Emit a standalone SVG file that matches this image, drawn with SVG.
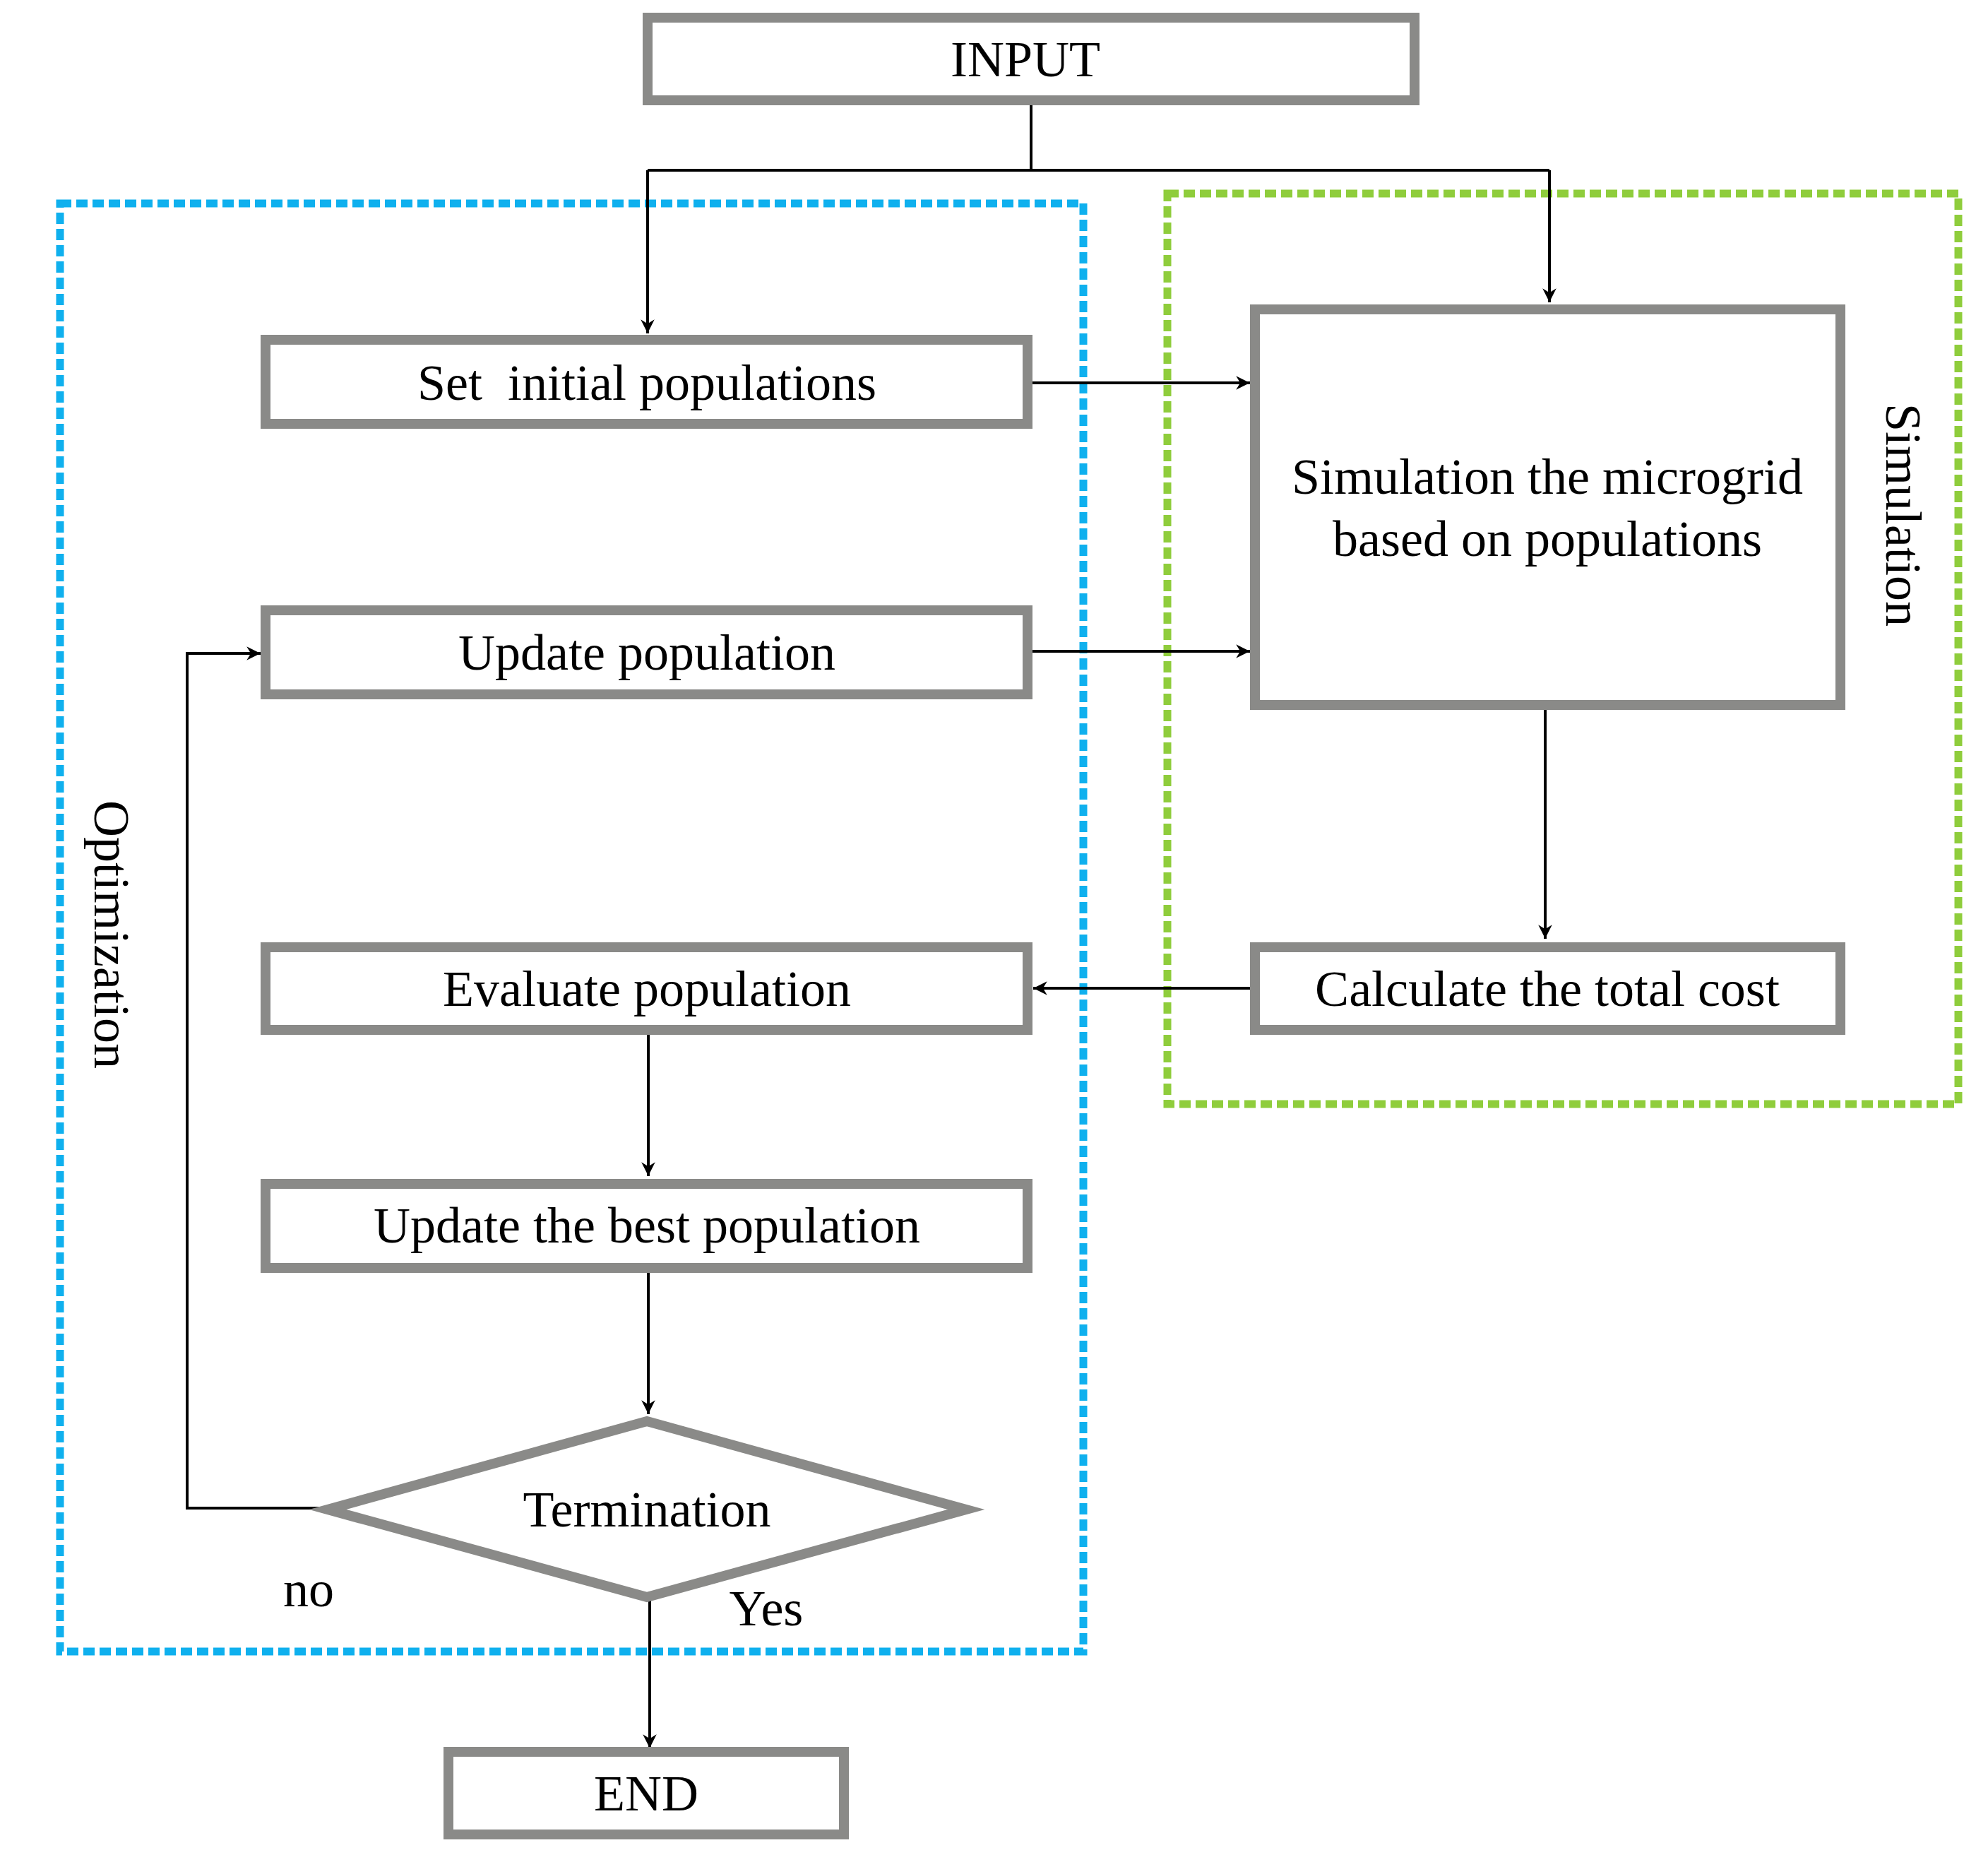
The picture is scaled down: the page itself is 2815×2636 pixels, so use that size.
<svg xmlns="http://www.w3.org/2000/svg" width="2815" height="2636" viewBox="0 0 2815 2636">
<defs>
<style>
.b{fill:#fff;stroke:#8a8a88;stroke-width:14}
.t{font-family:"Liberation Serif",serif;font-size:72px;fill:#000;text-anchor:middle;dominant-baseline:central}
.c{fill:none;stroke:#000;stroke-width:4}
</style>
<marker id="a" viewBox="0 0 10 10" refX="10" refY="5" markerWidth="7" markerHeight="7" orient="auto" markerUnits="userSpaceOnUse" style="overflow:visible"><path d="M0,0 L10,5 L0,10 L3,5z" fill="#000" transform="scale(2.8) translate(-6.5,-3.2)"/></marker>
</defs>
<rect width="2815" height="2636" fill="#fff"/>
<g id="optimization-group">
<rect x="85" y="288" width="1449" height="2050" fill="none" stroke="#0fb0ee" stroke-width="11" stroke-dasharray="16,7"/>
<text class="t" transform="translate(158,1323) rotate(90)">Optimization</text>
</g>
<g id="simulation-group">
<rect x="1653" y="274" width="1120" height="1289" fill="none" stroke="#8fcd3c" stroke-width="11" stroke-dasharray="16,7"/>
<text class="t" transform="translate(2695,729) rotate(90)">Simulation</text>
</g>
<g id="connectors">
<path class="c" d="M1460,142 V241" stroke-width="7"/>
<path class="c" d="M917,241 H2194"/>
<path class="c" d="M917,241 V472" marker-end="url(#a)"/>
<path class="c" d="M2194,241 V428" marker-end="url(#a)"/>
<path class="c" d="M1462,542 H1770" marker-end="url(#a)"/>
<path class="c" d="M1462,922 H1770" marker-end="url(#a)"/>
<path class="c" d="M2188,1001 V1329" marker-end="url(#a)"/>
<path class="c" d="M1777,1399 H1463" marker-end="url(#a)"/>
<path class="c" d="M918,1462 V1665" marker-end="url(#a)"/>
<path class="c" d="M918,1795 V2002" marker-end="url(#a)"/>
<path class="c" d="M464,2135 H265 V925 H369" marker-end="url(#a)"/>
<path class="c" d="M920,2264 V2475" marker-end="url(#a)"/>
</g>
<g id="input"><rect class="b" x="917" y="25" width="1086" height="117"/><text class="t" x="1452" y="84">INPUT</text></g>
<g id="set-initial"><rect class="b" x="376" y="481" width="1079" height="119"/><text class="t" x="916" y="542" xml:space="preserve">Set  initial populations</text></g>
<g id="update-population"><rect class="b" x="376" y="864" width="1079" height="119"/><text class="t" x="916" y="924">Update population</text></g>
<g id="simulation"><rect class="b" x="1777" y="438" width="829" height="560"/><text class="t" x="2191" y="675">Simulation the microgrid</text><text class="t" x="2191" y="763">based on populations</text></g>
<g id="calculate"><rect class="b" x="1777" y="1341" width="829" height="117"/><text class="t" x="2191" y="1400">Calculate the total cost</text></g>
<g id="evaluate"><rect class="b" x="376" y="1341" width="1079" height="117"/><text class="t" x="916" y="1400">Evaluate population</text></g>
<g id="update-best"><rect class="b" x="376" y="1676" width="1079" height="119"/><text class="t" x="916" y="1735">Update the best population</text></g>
<g id="termination"><polygon class="b" points="916,2012 1368,2137 916,2261 464,2137"/><text class="t" x="916" y="2137">Termination</text></g>
<g id="end"><rect class="b" x="635" y="2480" width="560" height="117"/><text class="t" x="915" y="2539">END</text></g>
<text class="t" x="437" y="2250">no</text>
<text class="t" x="1085" y="2277">Yes</text>
</svg>
